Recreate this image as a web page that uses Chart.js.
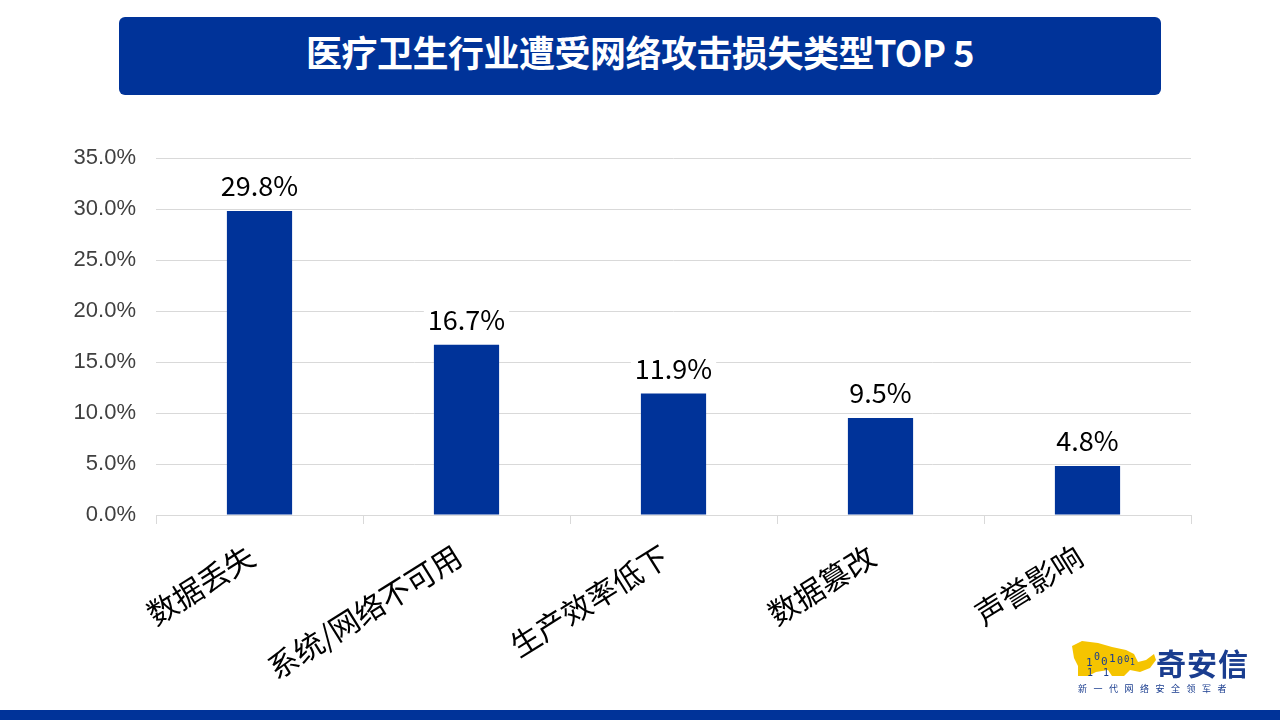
<!DOCTYPE html>
<html>
<head>
<meta charset="utf-8">
<script src="https://cdn.jsdelivr.net/npm/chart.js@4/dist/chart.umd.min.js"></script>
<style>
    html, body { margin: 0; padding: 0; background: #fff; }
    body { width: 1280px; height: 720px; position: relative; overflow: hidden; font-family: "Noto Sans CJK SC", sans-serif; }
    #title {
        position: absolute; left: 119px; top: 17px; width: 1042px; height: 78px;
        background: #003399; border-radius: 6px; color: #fff;
        font-size: 36px; font-weight: bold; line-height: 68px; text-align: center; letter-spacing: -0.5px;
    }
    #chart-wrap { position: absolute; left: 0; top: 0; width: 1280px; height: 720px; }
    #footer { position: absolute; left: 0; top: 710px; width: 1280px; height: 10px; background: #003399; }
    #logo { position: absolute; left: 1068px; top: 638px; width: 190px; height: 60px; }
    #logo .name { position: absolute; left: 88px; top: 2px; font-size: 30px; font-weight: bold; color: #1a3d8f; letter-spacing: 1px; }
    #logo .slogan { position: absolute; left: 10px; top: 44px; font-size: 9px; color: #1a3d8f; letter-spacing: 6.5px; white-space: nowrap; }
</style>
</head>
<body>
<div id="title">医疗卫生行业遭受网络攻击损失类型TOP 5</div>
<div id="chart-wrap"><canvas id="loss-chart" width="1280" height="720"></canvas></div>
<div id="logo">
    <svg width="90" height="42" style="position:absolute;left:0;top:0">
        <path d="M4 8 L14 3 L30 5 L44 9 L58 12 L66 16 L70 24 L78 22 L86 16 L88 22 L82 30 L72 34 L62 32 L56 38 L44 38 L40 32 L28 34 L20 38 L10 38 L10 28 L6 20 Z" fill="#f5c400"/>
        <text x="18" y="28" font-size="11" font-family="DejaVu Sans Mono" fill="#1a3d8f">1</text>
        <text x="26" y="22" font-size="10" font-family="DejaVu Sans Mono" fill="#1a3d8f">0</text>
        <text x="33" y="27" font-size="11" font-family="DejaVu Sans Mono" fill="#1a3d8f">0</text>
        <text x="41" y="24" font-size="11" font-family="DejaVu Sans Mono" fill="#1a3d8f">1</text>
        <text x="49" y="26" font-size="10" font-family="DejaVu Sans Mono" fill="#1a3d8f">0</text>
        <text x="56" y="24" font-size="9" font-family="DejaVu Sans Mono" fill="#1a3d8f">0</text>
        <text x="62" y="27" font-size="8" font-family="DejaVu Sans Mono" fill="#1a3d8f">1</text>
        <text x="19" y="38" font-size="10" font-family="DejaVu Sans Mono" fill="#1a3d8f">1</text>
        <text x="35" y="38" font-size="10" font-family="DejaVu Sans Mono" fill="#1a3d8f">1</text>
    </svg>
    <div class="name">奇安信</div>
    <div class="slogan">新一代网络安全领军者</div>
</div>
<div id="footer"></div>

<script>
const categories = ['数据丢失', '系统/网络不可用', '生产效率低下', '数据篡改', '声誉影响'];
const lossShare = [29.8, 16.7, 11.9, 9.5, 4.8];
const yTicks = [0, 5, 10, 15, 20, 25, 30, 35];

const BAR_COLOR = '#003399';
const GRID_COLOR = '#d9d9d9';

// draws the value above each bar on a white patch
const valueLabels = {
    id: 'valueLabels',
    afterDatasetsDraw(chart) {
        const ctx = chart.ctx;
        const meta = chart.getDatasetMeta(0);
        ctx.save();
        ctx.font = '27px "Noto Sans CJK SC", sans-serif';
        ctx.textAlign = 'center';
        ctx.textBaseline = 'middle';
        meta.data.forEach((bar, i) => {
            const text = lossShare[i].toFixed(1) + '%';
            const w = ctx.measureText(text).width;
            const cy = bar.y - 25;
            ctx.fillStyle = '#fff';
            ctx.fillRect(bar.x - w / 2 - 4, cy - 16, w + 8, 32);
            ctx.fillStyle = '#000';
            ctx.fillText(text, bar.x, cy);
        });
        ctx.restore();
    }
};

const ctx = document.getElementById('loss-chart');
new Chart(ctx.getContext('2d'), {
    type: 'bar',
    data: {
        labels: categories,
        datasets: [{
            data: lossShare,
            backgroundColor: BAR_COLOR,
            barPercentage: 0.315,
            categoryPercentage: 1
        }]
    },
    options: {
        responsive: false,
        animation: false,
        layout: { padding: { top: 158, right: 89, bottom: 0, left: 0 } },
        plugins: {
            legend: { display: false },
            tooltip: { enabled: false }
        },
        scales: {
            x: {
                afterFit(scale) { scale.height = 205; },
                border: { color: GRID_COLOR },
                grid: { display: true, drawOnChartArea: false, color: GRID_COLOR, tickLength: 9, offset: true },
                ticks: {
                    color: '#000',
                    font: { family: '"Noto Sans CJK SC", sans-serif', size: 30 },
                    minRotation: 32,
                    maxRotation: 32,
                    padding: 14,
                    labelOffset: -8,
                    autoSkip: false
                }
            },
            y: {
                min: 0,
                max: 35,
                afterFit(scale) { scale.width = 156; },
                afterBuildTicks(scale) { scale.ticks = yTicks.map(v => ({ value: v })); },
                border: { display: false },
                grid: { color: GRID_COLOR, drawTicks: false },
                ticks: {
                    color: '#404040',
                    font: { family: '"Liberation Sans", Arial, sans-serif', size: 22 },
                    padding: 20,
                    callback: v => v.toFixed(1) + '%'
                }
            }
        }
    },
    plugins: [valueLabels]
});
</script>
</body>
</html>
